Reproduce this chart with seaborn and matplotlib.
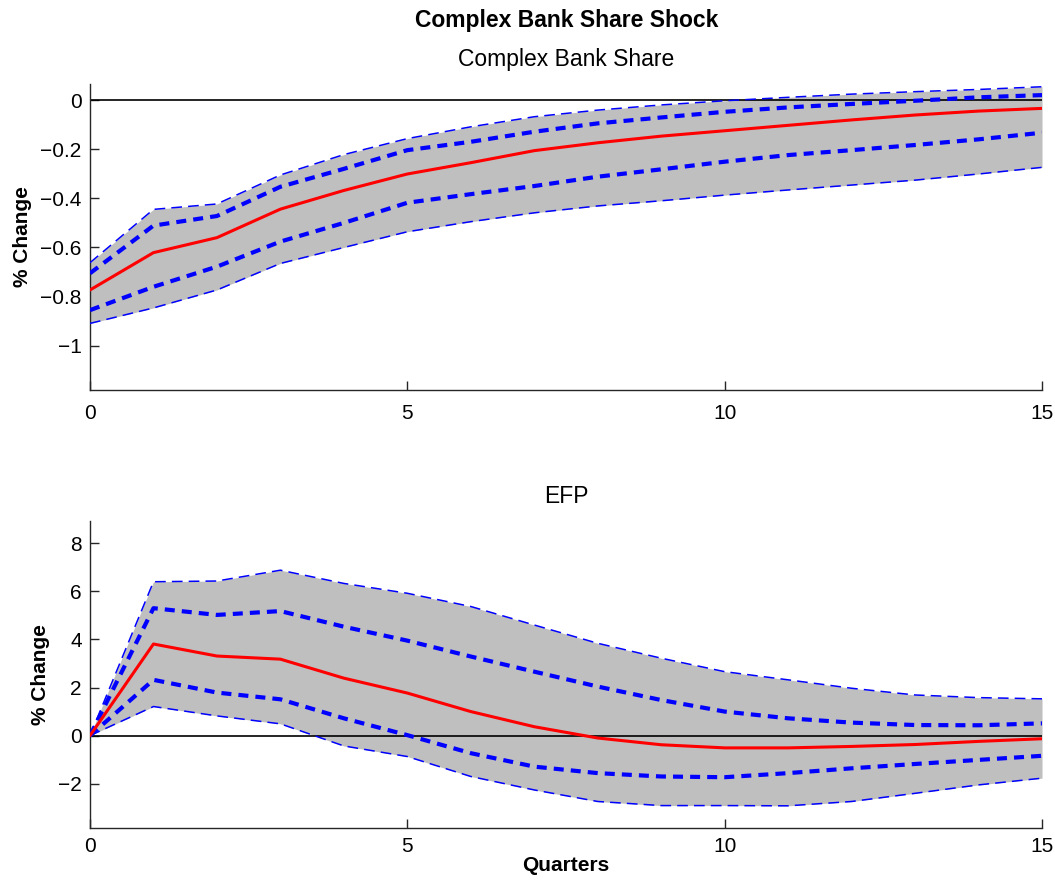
import numpy as np
import pandas as pd
import matplotlib
matplotlib.use("Agg")
import matplotlib.pyplot as plt
import seaborn as sns

quarters = list(range(16))

# Complex Bank Share
cbs_median = [-0.773, -0.621, -0.560, -0.444, -0.368, -0.301, -0.255, -0.206, -0.174, -0.147,
              -0.125, -0.103, -0.081, -0.061, -0.045, -0.034]
cbs_upper68 = [-0.705, -0.511, -0.472, -0.353, -0.280, -0.204, -0.170, -0.129, -0.095, -0.071,
               -0.048, -0.030, -0.016, -0.003, 0.011, 0.020]
cbs_lower68 = [-0.855, -0.760, -0.678, -0.576, -0.500, -0.418, -0.383, -0.350, -0.312, -0.282,
               -0.251, -0.224, -0.204, -0.183, -0.160, -0.133]
cbs_upper90 = [-0.662, -0.445, -0.423, -0.305, -0.222, -0.157, -0.109, -0.068, -0.041, -0.020,
               -0.003, 0.011, 0.024, 0.034, 0.043, 0.054]
cbs_lower90 = [-0.909, -0.846, -0.773, -0.665, -0.600, -0.536, -0.495, -0.459, -0.431, -0.410,
               -0.387, -0.366, -0.346, -0.326, -0.301, -0.274]

# EFP
efp_median = [0.0, 3.81, 3.31, 3.18, 2.39, 1.77, 1.00, 0.37, -0.10, -0.38,
              -0.51, -0.51, -0.45, -0.37, -0.24, -0.13]
efp_upper68 = [0.0, 5.30, 5.02, 5.18, 4.53, 3.95, 3.29, 2.66, 2.04, 1.48,
               1.00, 0.72, 0.54, 0.44, 0.43, 0.51]
efp_lower68 = [0.0, 2.32, 1.79, 1.51, 0.72, 0.02, -0.73, -1.29, -1.56, -1.70,
               -1.73, -1.56, -1.36, -1.18, -1.01, -0.84]
efp_upper90 = [0.0, 6.40, 6.43, 6.88, 6.33, 5.92, 5.37, 4.60, 3.84, 3.22,
               2.66, 2.32, 1.97, 1.69, 1.58, 1.53]
efp_lower90 = [0.0, 1.21, 0.82, 0.49, -0.43, -0.87, -1.70, -2.26, -2.74, -2.91,
               -2.91, -2.92, -2.74, -2.40, -2.05, -1.77]

suptitle = "Complex Bank Share Shock"
panel_titles = ["Complex Bank Share", "EFP"]
ylabel = "% Change"
xlabel = "Quarters"
xticks = [0, 5, 10, 15]

sns.set_theme(style="white")
plt.rcParams["font.family"] = ["Liberation Sans", "DejaVu Sans"]
plt.rcParams["axes.edgecolor"] = "#262626"
plt.rcParams["xtick.color"] = "#262626"
plt.rcParams["ytick.color"] = "#262626"
plt.rcParams["xtick.labelcolor"] = "black"
plt.rcParams["ytick.labelcolor"] = "black"
plt.rcParams["text.color"] = "black"
plt.rcParams["axes.labelcolor"] = "black"

fig = plt.figure(figsize=(10.55, 8.81), dpi=100)
ax1 = fig.add_axes([0.0853, 0.5573, 0.9024, 0.3473])
ax2 = fig.add_axes([0.0853, 0.0605, 0.9024, 0.3485])

panels = [
    (ax1, cbs_median, cbs_upper68, cbs_lower68, cbs_upper90, cbs_lower90, (-1.18, 0.065), [-1, -0.8, -0.6, -0.4, -0.2, 0], 10),
    (ax2, efp_median, efp_upper68, efp_lower68, efp_upper90, efp_lower90, (-3.83, 8.94), [-2, 0, 2, 4, 6, 8], 7),
]

for i, (ax, med, u68, l68, u90, l90, ylim, yticks, xpad) in enumerate(panels):
    ax.fill_between(quarters, l90, u90, color="#bfbfbf", linewidth=0, zorder=1)
    ax.axhline(0, color="black", linewidth=1.2, zorder=2)
    for series in (u90, l90):
        sns.lineplot(x=quarters, y=series, ax=ax, color="blue", linewidth=1.1,
                     linestyle=(0, (7, 4)), zorder=3)
    for series in (u68, l68):
        sns.lineplot(x=quarters, y=series, ax=ax, color="blue", linewidth=3.0,
                     linestyle=(0, (2.4, 1.7)), zorder=3)
    sns.lineplot(x=quarters, y=med, ax=ax, color="red", linewidth=2.2, zorder=4)
    ax.set_xlim(0, 15)
    ax.set_ylim(*ylim)
    ax.set_xticks(xticks)
    ax.set_yticks(yticks)
    ax.set_yticklabels([("%g" % t).replace("-", "\u2212") for t in yticks])
    ax.tick_params(direction="in", length=6.5, width=1, labelsize=15,
                   left=True, bottom=True)
    ax.tick_params(axis="y", pad=6)
    ax.tick_params(axis="x", pad=xpad)
    for side in ("top", "right"):
        ax.spines[side].set_visible(False)
    for side in ("left", "bottom"):
        ax.spines[side].set_linewidth(1)
    ax.set_ylabel(ylabel, fontsize=15, fontweight="bold", labelpad=6)
    ax.set_title(panel_titles[i], fontsize=16.5, pad=13)
    ax.set_xlabel("")

ax2.set_xlabel(xlabel, fontsize=15, fontweight="bold", labelpad=0)
fig.text(0.537, 0.977, suptitle, ha="center", va="center", fontsize=16.5, fontweight="bold")

fig.savefig("out.png", dpi=100)
